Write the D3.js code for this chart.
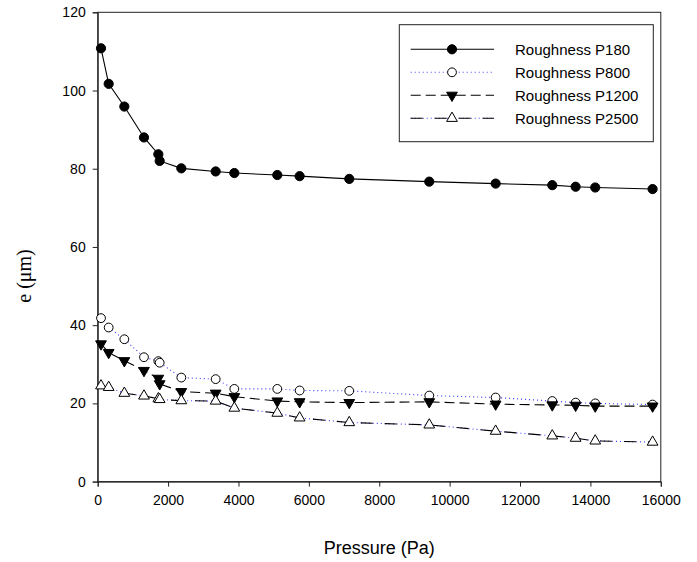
<!DOCTYPE html>
<html><head><meta charset="utf-8">
<script src="https://cdn.jsdelivr.net/npm/d3@7"></script>
<style>body{margin:0;background:#fff}</style>
</head><body><svg id="c" width="697" height="562"></svg>
<script>
const pressure = [94,312,757,1315,1723,1761,2376,3352,3882,5103,5738,7148,9421,11307,12916,13580,14137,15767];
const p180  = [110.8,101.7,95.9,88.0,83.7,82.0,80.1,79.3,78.9,78.4,78.1,77.4,76.7,76.2,75.8,75.4,75.2,74.8];
const p800  = [41.8,39.4,36.4,31.8,30.8,30.4,26.6,26.2,23.7,23.7,23.3,23.2,22.0,21.5,20.6,20.2,20.0,19.7];
const p1200 = [35.2,33.0,30.9,28.4,26.4,25.0,23.0,22.6,21.7,20.6,20.4,20.2,20.4,19.8,19.6,19.5,19.3,19.3];
const p2500 = [24.5,24.1,22.6,21.9,21.2,21.0,20.7,20.6,18.8,17.5,16.3,15.1,14.5,12.9,11.7,11.1,10.4,10.1];
const seriesNames = ["Roughness P180","Roughness P800","Roughness P1200","Roughness P2500"];
const xTicks = [0,2000,4000,6000,8000,10000,12000,14000,16000];
const yTicks = [0,20,40,60,80,100,120];

const svg = d3.select("#c");
const L=97.7,R=660.8,T=12.3,B=481.6;
const x = d3.scaleLinear().domain([0,16000]).range([L,R]);
const y = d3.scaleLinear().domain([0,120]).range([B,T]);

const series = [
  {name:seriesNames[0], vals:p180, marker:"circleFilled"},
  {name:seriesNames[1], vals:p800, marker:"circleOpen"},
  {name:seriesNames[2], vals:p1200, marker:"triDown"},
  {name:seriesNames[3], vals:p2500, marker:"triUp"}
];

function drawLine(g, pts, idx){
  const line = d3.line().x(d=>d[0]).y(d=>d[1]);
  if(idx===0){
    g.append("path").attr("d",line(pts)).attr("fill","none").attr("stroke","#000").attr("stroke-width",1.1);
  } else if(idx===1){
    g.append("path").attr("d",line(pts)).attr("fill","none").attr("stroke","#3b3bff").attr("stroke-width",1.1).attr("stroke-dasharray","1,3");
  } else if(idx===2){
    g.append("path").attr("d",line(pts)).attr("fill","none").attr("stroke","#000").attr("stroke-width",1.1).attr("stroke-dasharray","10,5");
  } else {
    g.append("path").attr("d",line(pts)).attr("fill","none").attr("stroke","#3b3bff").attr("stroke-width",1.1).attr("stroke-dasharray","1,3");
    g.append("path").attr("d",line(pts)).attr("fill","none").attr("stroke","#000").attr("stroke-width",1.1).attr("stroke-dasharray","12,12");
  }
}
function drawMarker(g, px, py, type){
  if(type==="circleFilled"){
    g.append("circle").attr("cx",px).attr("cy",py).attr("r",4.6).attr("fill","#000").attr("stroke","#000");
  } else if(type==="circleOpen"){
    g.append("circle").attr("cx",px).attr("cy",py).attr("r",4.4).attr("fill","#fff").attr("stroke","#000").attr("stroke-width",1);
  } else {
    const p = d3.symbol().type(d3.symbolTriangle).size(50)();
    const rot = type==="triDown"?180:0;
    g.append("path").attr("d",p).attr("transform",`translate(${px},${py}) rotate(${rot})`)
      .attr("fill", type==="triDown"?"#000":"#fff").attr("stroke","#000").attr("stroke-width",1);
  }
}

// axes
const fontS = "Arial, 'Liberation Sans', sans-serif";
const xa = svg.append("g").attr("transform",`translate(0,${B})`)
  .call(d3.axisBottom(x).tickValues(xTicks).tickSize(5).tickPadding(8).tickFormat(d3.format("d")));
const ya = svg.append("g").attr("transform",`translate(${L},0)`)
  .call(d3.axisLeft(y).tickValues(yTicks).tickSize(5).tickPadding(7).tickFormat(d3.format("d")));
[xa,ya].forEach(a=>{
  a.selectAll("text").attr("font-family",fontS).attr("font-size",14).attr("fill","#000");
  a.selectAll("line").attr("stroke","#222");
  a.select(".domain").attr("stroke","#222");
});
svg.append("rect").attr("x",L).attr("y",T).attr("width",R-L).attr("height",B-T)
  .attr("fill","none").attr("stroke","#222").attr("stroke-width",1);

// series
series.forEach((s,i)=>{
  const g = svg.append("g");
  const pts = pressure.map((p,j)=>[x(p),y(s.vals[j])]);
  drawLine(g, pts, i);
});
series.forEach((s,i)=>{
  const g = svg.append("g");
  pressure.forEach((p,j)=>drawMarker(g,x(p),y(s.vals[j]),s.marker));
});

// legend
const lg = svg.append("g");
lg.append("rect").attr("x",399.3).attr("y",24.7).attr("width",254).attr("height",117)
  .attr("fill","#fff").attr("stroke","#222").attr("stroke-width",1);
series.forEach((s,i)=>{
  const ry = 49.3 + i*23;
  const g = lg.append("g");
  drawLine(g, [[410.7,ry],[494,ry]], i);
  drawMarker(g, 452, ry, s.marker);
  g.append("text").attr("x",515).attr("y",ry+5.5).attr("font-family",fontS).attr("font-size",15).text(s.name);
});

// titles
svg.append("text").attr("x",(L+R)/2).attr("y",554).attr("text-anchor","middle")
  .attr("font-family",fontS).attr("font-size",18).text("Pressure (Pa)");
svg.append("text").attr("transform","translate(31,276) rotate(-90)").attr("text-anchor","middle")
  .attr("font-family","'Liberation Serif','Times New Roman',serif").attr("font-size",20).text("e (μm)");
</script></body></html>
